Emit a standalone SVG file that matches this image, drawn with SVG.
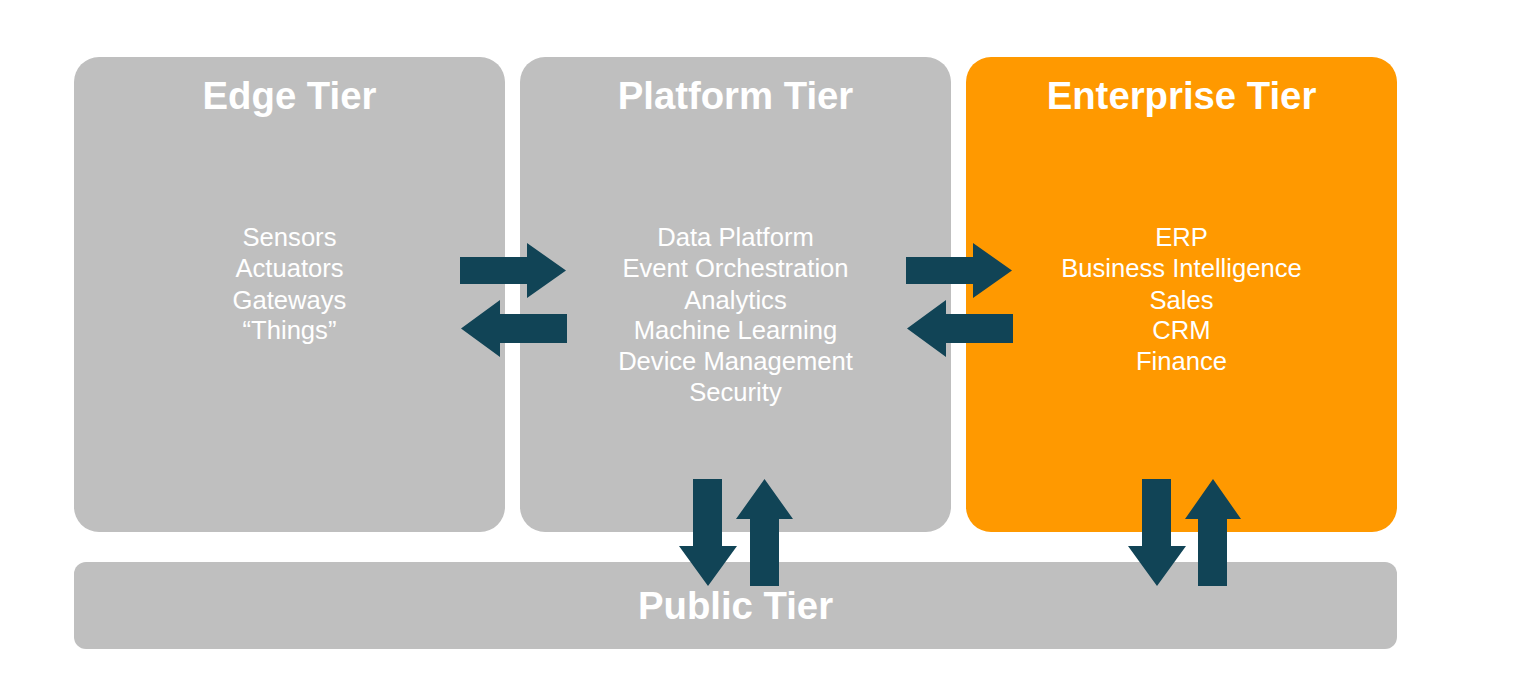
<svg xmlns="http://www.w3.org/2000/svg" width="1523" height="677" viewBox="0 0 1523 677">
<style>
.tier{fill:#bfbfbf}
.ent{fill:#ff9900}
.title{font-family:"Liberation Sans",Arial,sans-serif;font-weight:bold;font-size:38.3px;fill:#ffffff;text-anchor:middle}
.body{font-family:"Liberation Sans",Arial,sans-serif;font-size:25.6px;fill:#ffffff;text-anchor:middle}
.arrow{fill:#114456}
</style>
<rect width="1523" height="677" fill="#ffffff"/>
<g id="public-tier">
<rect class="tier" x="74" y="562" width="1323" height="87" rx="12"/>
<text class="title" x="735.5" y="619">Public Tier</text>
</g>
<g id="edge-tier">
<rect class="tier" x="74" y="57" width="431" height="475" rx="25"/>
<text class="title" x="289.5" y="109">Edge Tier</text>
<text class="body" x="289.5" y="246">Sensors</text>
<text class="body" x="289.5" y="277">Actuators</text>
<text class="body" x="289.5" y="308.5">Gateways</text>
<text class="body" x="289.5" y="339">“Things”</text>
</g>
<g id="platform-tier">
<rect class="tier" x="520" y="57" width="431" height="475" rx="25"/>
<text class="title" x="735.5" y="109">Platform Tier</text>
<text class="body" x="735.5" y="246">Data Platform</text>
<text class="body" x="735.5" y="277">Event Orchestration</text>
<text class="body" x="735.5" y="308.5">Analytics</text>
<text class="body" x="735.5" y="339">Machine Learning</text>
<text class="body" x="735.5" y="370">Device Management</text>
<text class="body" x="735.5" y="401">Security</text>
</g>
<g id="enterprise-tier">
<rect class="ent" x="966" y="57" width="431" height="475" rx="25"/>
<text class="title" x="1181.5" y="109">Enterprise Tier</text>
<text class="body" x="1181.5" y="246">ERP</text>
<text class="body" x="1181.5" y="277">Business Intelligence</text>
<text class="body" x="1181.5" y="308.5">Sales</text>
<text class="body" x="1181.5" y="339">CRM</text>
<text class="body" x="1181.5" y="370">Finance</text>
</g>
<g id="connectors">
<polygon class="arrow" points="460,257 527,257 527,243 566,270.5 527,298 527,284 460,284"/>
<polygon class="arrow" points="567,314 500,314 500,300 461,328.5 500,357 500,343 567,343"/>
<polygon class="arrow" points="906,257 973,257 973,243 1012,270.5 973,298 973,284 906,284"/>
<polygon class="arrow" points="1013,314 946,314 946,300 907,328.5 946,357 946,343 1013,343"/>
<polygon class="arrow" points="693,479 722,479 722,546 737,546 708,586 679,546 693,546"/>
<polygon class="arrow" points="750,586 779,586 779,519 793,519 764.5,479 736,519 750,519"/>
<polygon class="arrow" points="1142,479 1171,479 1171,546 1186,546 1157,586 1128,546 1142,546"/>
<polygon class="arrow" points="1198,586 1227,586 1227,519 1241,519 1213,479 1185,519 1198,519"/>
</g>
</svg>
